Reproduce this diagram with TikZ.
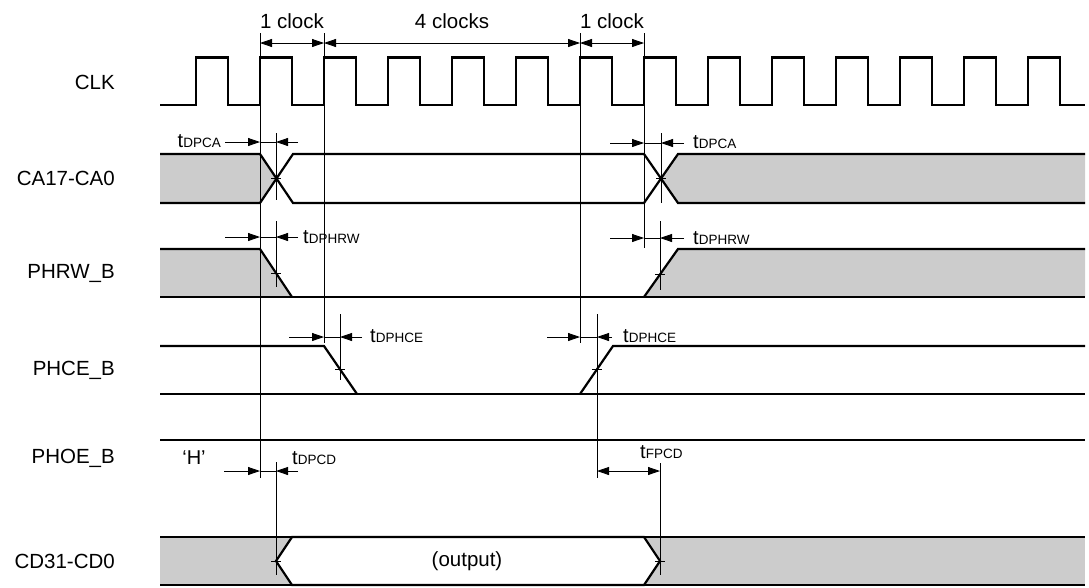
\documentclass[tikz,border=0pt]{standalone}
\usepackage{fontspec}
\setmainfont{Liberation Sans}
\usetikzlibrary{arrows.meta}

% small timing label: t with a lowered, smaller name
\newcommand{\tname}[1]{t{\fontsize{13.5}{14}\selectfont #1}}

\begin{document}
\begin{tikzpicture}[x=1pt, y=-1pt,
    sig/.style={line width=2.2pt, line join=miter},
    shade/.style={fill=black!20},
    guide/.style={line width=0.8pt},
    dim/.style={line width=0.8pt, -{Triangle[length=12pt,width=8pt]}},
    twoway/.style={line width=0.8pt, {Triangle[length=12pt,width=8pt]}-{Triangle[length=12pt,width=8pt]}},
    lbl/.style={font=\fontsize{20.5}{24}\selectfont, inner sep=0pt},
    tlbl/.style={font=\fontsize{20}{24}\selectfont, inner sep=0pt}]

    \useasboundingbox (0,0) rectangle (1089,587);

    % Define signal names
    \node[lbl, anchor=east] (nclk) at (115,82) {CLK};
    \node[lbl, anchor=east] (nca) at (115,178) {CA17-CA0};
    \node[lbl, anchor=east] (nrw) at (115,273) {PHRW\_B};
    \node[lbl, anchor=east] (nce) at (115,370) {PHCE\_B};
    \node[lbl, anchor=east] (noe) at (115,458) {PHOE\_B};
    \node[lbl, anchor=east] (ncd) at (115,561) {CD31-CD0};

    % Clock
    \draw[sig] (160,105) \foreach \k in {0,...,13} {
        -- ({196+64*\k},105) -- ({196+64*\k},57.5) -- ({228+64*\k},57.5) -- ({228+64*\k},105)} -- (1085,105);

    % Address bus
    \fill[shade] (160,154) -- (260,154) -- (276.5,178.5) -- (260,203) -- (160,203) -- cycle;
    \fill[shade] (661,178.5) -- (678,154) -- (1085,154) -- (1085,203) -- (678,203) -- cycle;
    \draw[sig] (160,154) -- (260,154) -- (293,203) -- (644,203) -- (678,154) -- (1085,154);
    \draw[sig] (160,203) -- (260,203) -- (293,154) -- (644,154) -- (678,203) -- (1085,203);

    % Read/write
    \fill[shade] (160,249) -- (260,249) -- (292,297) -- (160,297) -- cycle;
    \fill[shade] (644,297) -- (678,249) -- (1085,249) -- (1085,297) -- cycle;
    \draw[sig] (160,249) -- (260,249) -- (292,297);
    \draw[sig] (160,297) -- (1085,297);
    \draw[sig] (644,297) -- (678,249) -- (1085,249);

    % Chip enable
    \draw[sig] (160,346) -- (324,346) -- (357,394);
    \draw[sig] (160,394) -- (1085,394);
    \draw[sig] (580,394) -- (613,346) -- (1085,346);

    % Output enable
    \draw[sig] (160,440) -- (1085,440);
    \node[tlbl] (hlev) at (194,458) {‘H’};

    % Data bus
    \fill[shade] (160,537) rectangle (1085,585);
    \filldraw[fill=white, sig] (276,561) -- (292,537) -- (644,537) -- (660,561) -- (644,585) -- (292,585) -- cycle;
    \draw[sig] (160,537) -- (1085,537);
    \draw[sig] (160,585) -- (1085,585);
    \node[lbl] (out) at (467,561) {(output)};

    % Guide lines
    \draw[guide] (260,33) -- (260,478);
    \draw[guide] (324,33) -- (324,343);
    \draw[guide] (580,33) -- (580,343);
    \draw[guide] (644,33) -- (644,248);
    \draw[guide] (276,133) -- (276,200) (271,178.5) -- (281,178.5);
    \draw[guide] (661,133) -- (661,203) (656,178.5) -- (666,178.5);
    \draw[guide] (276,221) -- (276,287) (271,273) -- (281,273);
    \draw[guide] (660,221) -- (660,290) (655,274) -- (665,274);
    \draw[guide] (340,314) -- (340,380) (335,369) -- (345,369);
    \draw[guide] (597,314) -- (597,478) (592,369) -- (602,369);
    \draw[guide] (276,462) -- (276,575) (271,561) -- (281,561);
    \draw[guide] (660,463) -- (660,575) (655,561) -- (665,561);

    % Clock counts
    \coordinate (k0) at (260,43);
    \coordinate (k1) at (324,43);
    \coordinate (k2) at (580,43);
    \coordinate (k3) at (644,43);
    \draw[twoway] (k0) -- (k1);
    \draw[twoway] (k1) -- (k2);
    \draw[twoway] (k2) -- (k3);
    \node[lbl] (c1) at (292,21) {1 clock};
    \node[lbl] (c4) at (452,21) {4 clocks};
    \node[lbl] (c1b) at (612,21) {1 clock};

    % Delays
    \draw[guide] (260,142) -- (276,142);
    \draw[dim] (225,142) -- (260,142);
    \draw[dim] (298,142) -- (276,142);
    \node[tlbl, anchor=base east] (dpca1) at (221,147) {\tname{DPCA}};

    \draw[guide] (644,143) -- (661,143);
    \draw[dim] (610,143) -- (644,143);
    \draw[dim] (684,143) -- (661,143);
    \node[tlbl, anchor=base west] (dpca2) at (693,148) {\tname{DPCA}};

    \draw[guide] (260,237) -- (276,237);
    \draw[dim] (225,237) -- (260,237);
    \draw[dim] (298,237) -- (276,237);
    \node[tlbl, anchor=base west] (dphrw1) at (303,243) {\tname{DPHRW}};

    \draw[guide] (644,238) -- (660,238);
    \draw[dim] (610,238) -- (644,238);
    \draw[dim] (684,238) -- (660,238);
    \node[tlbl, anchor=base west] (dphrw2) at (693,244) {\tname{DPHRW}};

    \draw[guide] (324,337) -- (340,337);
    \draw[dim] (289,337) -- (324,337);
    \draw[dim] (362,337) -- (340,337);
    \node[tlbl, anchor=base west] (dphce1) at (370,342) {\tname{DPHCE}};

    \draw[guide] (580,337) -- (597,337);
    \draw[dim] (547,337) -- (580,337);
    \draw[dim] (612,337) -- (597,337);
    \node[tlbl, anchor=base west] (dphce2) at (623,342) {\tname{DPHCE}};

    \draw[guide] (260,471) -- (276,471);
    \draw[dim] (224,471) -- (260,471);
    \draw[dim] (298,471) -- (276,471);
    \node[tlbl, anchor=base west] (dpcd) at (292,464) {\tname{DPCD}};

    \draw[twoway] (597,471) -- (660,471);
    \node[tlbl, anchor=base west] (fpcd) at (640,458) {\tname{FPCD}};

\end{tikzpicture}
\end{document}
